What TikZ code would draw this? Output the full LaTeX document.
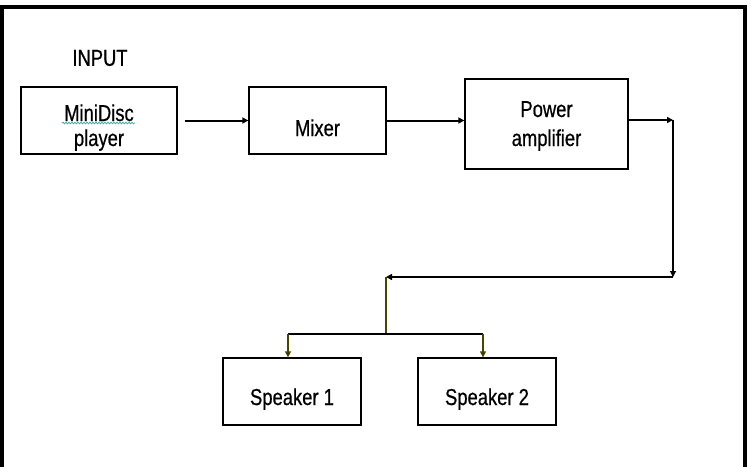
\documentclass[tikz,border=0pt]{standalone}
\usepackage{fontspec}
\setmainfont{Liberation Sans}[FakeStretch=0.8,FakeBold=0.6]
\usetikzlibrary{arrows.meta,decorations.pathmorphing}
\definecolor{olivedark}{RGB}{70,70,0}
\definecolor{squiggle}{RGB}{70,170,170}
% one line of text whose baseline sits #1 below the node centre
\newcommand\oneline[2]{\raisebox{-#1}[0pt][0pt]{#2}}
% two lines: baseline of 2nd line sits #1 below centre, extra gap #2
\newcommand\twolines[4]{\raisebox{-#1}[0pt][0pt]{\begin{tabular}[b]{@{}c@{}}#3\\[#2]#4\end{tabular}}}
\begin{document}
\begin{tikzpicture}[x=1pt,y=-1pt,
  blk/.style={draw=black, line width=1.3pt, inner sep=0pt, align=center,
    font=\fontsize{23}{27}\selectfont},
  lbl/.style={font=\fontsize{23}{27}\selectfont, inner sep=0pt},
  arr/.style={line width=2pt, -{Triangle[length=6pt,width=6pt]}},
  thin arr/.style={line width=1.1pt, -{Triangle[length=6pt,width=6pt]}},
  ylw/.style={line width=1.4pt, draw=olivedark},
  ylwarr/.style={line width=1.4pt, draw=olivedark, -{Triangle[length=6pt,width=6pt,fill=black]}},
  plain/.style={line width=2pt},
  spell/.style={draw=squiggle, line width=0.8pt, decorate,
    decoration={snake, amplitude=0.8pt, segment length=3pt}}
]
\useasboundingbox (0,0) rectangle (751,466);
\fill[white] (0,0) rectangle (751,466);
% frame
\draw[line width=4pt] (2,470) -- (2,7) -- (745,7) -- (745,470);

\node[lbl] (input) at (100,58) {INPUT};

\node[blk, minimum width=156pt, minimum height=67pt] (mini) at (99,120.5)
  {\twolines{25.5pt}{-2pt}{MiniDisc}{player}};
\node[blk, minimum width=137pt, minimum height=67pt] (mixer) at (317.5,120.5)
  {\oneline{15.5pt}{Mixer}};
\node[blk, minimum width=163pt, minimum height=90pt] (power) at (546.5,124)
  {\twolines{22pt}{2pt}{Power}{amplifier}};
\node[blk, minimum width=138pt, minimum height=67pt] (spk1) at (292,391.5)
  {\oneline{13.5pt}{Speaker 1}};
\node[blk, minimum width=138pt, minimum height=67pt] (spk2) at (487,391.5)
  {\oneline{13.5pt}{Speaker 2}};

% spelling squiggle under "MiniDisc"
\draw[spell] ([xshift=-37pt,yshift=-2.5pt]mini.center) -- ([xshift=36pt,yshift=-2.5pt]mini.center);

\coordinate (c1) at (673,120);
\coordinate (c2) at (673,277);
\coordinate (c3) at (386,277);
\coordinate (j) at (386,334);
\coordinate (j1) at (288,334);
\coordinate (j2) at (483,334);

\draw[arr, shorten <=7pt] (mini.east) -- (mixer.west);
\draw[arr] (mixer.east) -- (power.west |- mixer.east);
\draw[arr] (power.east |- c1) -- (c1);
\draw[thin arr] (c1) -- (c2);
\draw[arr] (c2) -- (c3);
\draw[ylw] (c3) -- (j);
\draw[plain] (j1) -- (j2);
\draw[ylwarr] (j1) -- (j1 |- spk1.north);
\draw[ylwarr] (j2) -- (j2 |- spk2.north);
\end{tikzpicture}
\end{document}
